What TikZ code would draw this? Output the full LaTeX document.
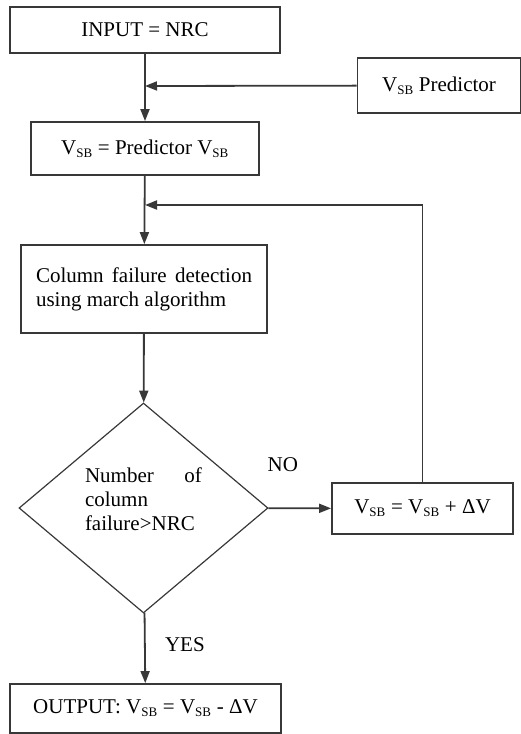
\documentclass[tikz,border=0pt]{standalone}
\usepackage{fontspec}
\setmainfont{Liberation Serif}
\usetikzlibrary{shapes.geometric,arrows.meta}
\newcommand{\vsb}{V\textsubscript{\fontsize{13}{13}\selectfont SB}}

\begin{document}
\begin{tikzpicture}[x=1pt, y=-1pt, font=\fontsize{21}{24}\selectfont,
    line width=1.8pt, draw=black!78, >={Triangle[length=12pt,width=9pt]},
    box/.style={rectangle, draw, inner sep=0pt},
    decision/.style={diamond, draw, line width=1.2pt, inner sep=0pt, minimum width=249pt, minimum height=210pt}]

    \useasboundingbox (0, 0) rectangle (521, 734);

    \node[box, minimum width=270pt, minimum height=46pt] at (145, 30) (inp) {INPUT = NRC};
    \node[box, minimum width=163pt, minimum height=55pt] at (439, 85.5) (pred) {\vsb{} Predictor};
    \node[box, minimum width=228pt, minimum height=53pt] at (145, 148.5) (vsb) {\vsb{} = Predictor \vsb};
    \node[box, minimum width=246pt, minimum height=88pt, text width=216pt, align=justify] at (144, 289) (col) {Column failure detection using march algorithm\par\vspace{8pt}};
    \node[decision] at (143.5, 508) (dec) {\parbox{117pt}{Number\hfill of\\column\\failure>NRC\par\vspace{18pt}}};
    \node[box, minimum width=181pt, minimum height=51pt] at (422.5, 508.5) (plus) {\vsb{} = \vsb{} + ΔV};
    \node[box, minimum width=271pt, minimum height=49pt] at (145.5, 708.5) (out) {OUTPUT: \vsb{} = \vsb{} - ΔV};

    \coordinate (join1) at (145, 86);
    \coordinate (join2) at (145, 205);

    \path[->] (inp) edge (vsb);
    \path[->] (pred) edge (join1);
    \path[->] (vsb) edge (col);
    \path[->] (col) edge (dec);
    \path[->] (dec) edge node[pos=0.23, yshift=44pt] {NO} (plus);
    \path[->] (dec) edge node[pos=0.45, xshift=40pt] {YES} (out);
    \draw[->] (plus) |- (join2);

\end{tikzpicture}
\end{document}
